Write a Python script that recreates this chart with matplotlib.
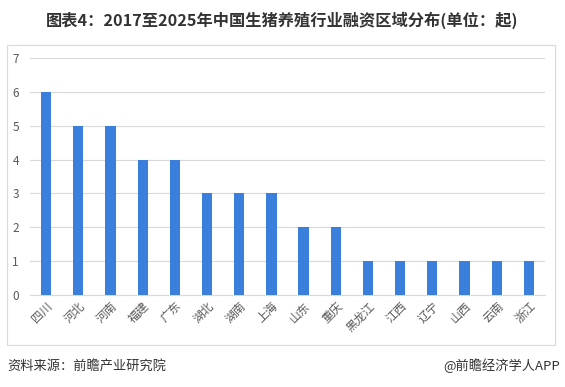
import matplotlib.pyplot as plt
from matplotlib.patches import Rectangle

plt.rcParams['font.family'] = ['Noto Sans CJK SC', 'DejaVu Sans']

regions = ['四川', '河北', '河南', '福建', '广东', '湖北', '湖南', '上海',
           '山东', '重庆', '黑龙江', '江西', '辽宁', '山西', '云南', '浙江']
counts = [6, 5, 5, 4, 4, 3, 3, 3, 2, 2, 1, 1, 1, 1, 1, 1]
y_ticks = [0, 1, 2, 3, 4, 5, 6, 7]

fig = plt.figure(figsize=(5.65, 3.87), dpi=100)

# outer frame around the chart area
fig.patches.append(Rectangle((7 / 565, 1 - 345 / 387), 548 / 565, 300 / 387,
                             transform=fig.transFigure, fill=False,
                             edgecolor='#d9d9d9', linewidth=0.8))

ax = fig.add_axes([30 / 565, 1 - 295 / 387, 515 / 565, 237 / 387])
x = range(len(regions))
ax.bar(x, counts, width=0.32, color='#3a7fdc', zorder=3)

ax.set_ylim(0, 7)
ax.set_xlim(-0.5, len(regions) - 0.5)
ax.set_yticks(y_ticks)
ax.yaxis.grid(True, color='#d9d9d9', linewidth=0.8, zorder=0)
for s in ['top', 'right', 'left']:
    ax.spines[s].set_visible(False)
ax.spines['bottom'].set_color('#d9d9d9')
ax.tick_params(axis='both', length=0, colors='#595959', labelsize=8.5)
ax.tick_params(axis='y', pad=8)
ax.set_xticks(list(x))
ax.set_xticklabels(regions, rotation=45, ha='right', va='top',
                   rotation_mode='anchor')

fig.text(0.5, 1 - 20 / 387, '图表4：2017至2025年中国生猪养殖行业融资区域分布(单位：起)',
         ha='center', va='center', fontsize=11.7, fontweight='bold', color='#333333')
fig.text(7 / 565, 1 - 366 / 387, '资料来源：前瞻产业研究院', ha='left', va='center',
         fontsize=9.5, color='#333333')
fig.text(560 / 565, 1 - 366 / 387, '@前瞻经济学人APP', ha='right', va='center',
         fontsize=9.5, color='#333333')

fig.savefig('out.png', dpi=100)
